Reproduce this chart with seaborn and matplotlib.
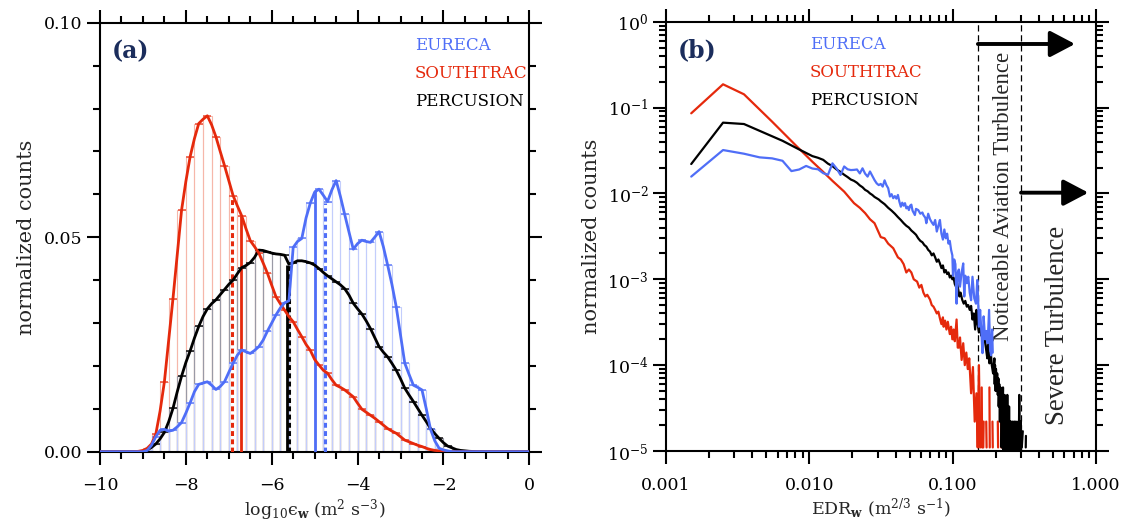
import numpy as np
import pandas as pd
import matplotlib
matplotlib.use("Agg")
import matplotlib.pyplot as plt
import seaborn as sns
from matplotlib.ticker import (MultipleLocator, LogLocator, NullFormatter,
                               FuncFormatter, FormatStrFormatter, LogFormatterSciNotation)

# ---------------- data ----------------
campaigns = ["EURECA", "SOUTHTRAC", "PERCUSION"]
line_colors = {"EURECA": "#4f6ef7", "SOUTHTRAC": "#e5290c", "PERCUSION": "#000000"}
bar_colors = {"EURECA": "#c3cdfc", "SOUTHTRAC": "#f6b7aa", "PERCUSION": "#9a9aa6"}
top_colors = {"EURECA": "#7088f8", "SOUTHTRAC": "#ec5a44", "PERCUSION": "#222222"}

# panel (a): log10 epsilon grid (0.1 steps), bars every 0.2
log_eps = np.round(np.arange(-10.0, 0.05, 0.1), 1)

eureca_a = [0.0] * 5 + [
    0, 0, 0, 0, 0, 0,
    0.0003, 0.0015, 0.0035, 0.0050, 0.0052, 0.0048, 0.0050, 0.0058, 0.0068, 0.0090,
    0.0114, 0.0140, 0.0157, 0.0160, 0.0163, 0.0155, 0.0145, 0.0152, 0.0163, 0.0185,
    0.0206, 0.0225, 0.0237, 0.0233, 0.0229, 0.0236, 0.0245, 0.0260, 0.0281, 0.0300,
    0.0319, 0.0335, 0.0347, 0.0352, 0.0476, 0.0490, 0.0497, 0.0545, 0.0580, 0.0605,
    0.0612, 0.0598, 0.0583, 0.0610, 0.0632, 0.0595, 0.0553, 0.0512, 0.0472, 0.0485,
    0.0493, 0.0490, 0.0488, 0.0500, 0.0513, 0.0478, 0.0435, 0.0390, 0.0338, 0.0272,
    0.0206, 0.0180, 0.0155, 0.0150, 0.0144, 0.0100, 0.0052, 0.0025, 0.0008, 0.0004,
    0.0002, 0, 0, 0, 0, 0, 0, 0, 0, 0] + [0.0] * 10

southtrac_a = [0.0] * 5 + [
    0, 0, 0, 0, 0.0001, 0.0003,
    0.0008, 0.0018, 0.0041, 0.0095, 0.0163, 0.0260, 0.0357, 0.0460, 0.0563, 0.0630,
    0.0688, 0.0730, 0.0765, 0.0775, 0.0783, 0.0762, 0.0734, 0.0700, 0.0667, 0.0632,
    0.0597, 0.0573, 0.0550, 0.0520, 0.0492, 0.0478, 0.0463, 0.0440, 0.0416, 0.0388,
    0.0361, 0.0345, 0.0330, 0.0315, 0.0303, 0.0285, 0.0268, 0.0250, 0.0236, 0.0215,
    0.0202, 0.0190, 0.0183, 0.0168, 0.0155, 0.0150, 0.0144, 0.0136, 0.0128, 0.0113,
    0.0099, 0.0092, 0.0085, 0.0078, 0.0070, 0.0062, 0.0054, 0.0048, 0.0043, 0.0035,
    0.0027, 0.0023, 0.0019, 0.0015, 0.0012, 0.0008, 0.0005, 0.0003, 0.0002, 0.0001,
    0, 0, 0, 0, 0, 0, 0, 0, 0, 0] + [0.0] * 10

percusion_a = [0.0] * 5 + [
    0, 0, 0, 0, 0, 0.0001,
    0.0004, 0.0010, 0.0018, 0.0030, 0.0045, 0.0070, 0.0101, 0.0140, 0.0176, 0.0208,
    0.0235, 0.0265, 0.0292, 0.0315, 0.0333, 0.0345, 0.0354, 0.0366, 0.0378, 0.0390,
    0.0400, 0.0415, 0.0429, 0.0434, 0.0441, 0.0453, 0.0470, 0.0469, 0.0466, 0.0463,
    0.0461, 0.0460, 0.0458, 0.0437, 0.0440, 0.0445, 0.0445, 0.0443, 0.0440, 0.0435,
    0.0427, 0.0418, 0.0410, 0.0403, 0.0396, 0.0389, 0.0380, 0.0365, 0.0346, 0.0333,
    0.0321, 0.0305, 0.0287, 0.0266, 0.0245, 0.0232, 0.0221, 0.0206, 0.0190, 0.0170,
    0.0148, 0.0132, 0.0117, 0.0101, 0.0085, 0.0070, 0.0054, 0.0042, 0.0031, 0.0021,
    0.0013, 0.0009, 0.0005, 0.0003, 0.0002, 0.0001, 0.00005, 0, 0, 0] + [0.0] * 10

# mean (solid) and median (dashed) markers, order = campaigns
mean_log = [-5.00, -6.72, -5.64]
mean_top = [0.0610, 0.0550, 0.0436]
median_log = [-4.77, -6.92, -5.60]
median_top = [0.0580, 0.0595, 0.0436]

# panel (b): EDR distributions
nan = np.nan
southtrac_edr = [0.0015, 0.0025, 0.0035, 0.0055, 0.0080, 0.0105, 0.0125, 0.0145, 0.0175, 0.0205,
                 0.0225, 0.0245, 0.0265, 0.0285, 0.0315, 0.0335, 0.0355, 0.0385, 0.0415, 0.0435,
                 0.0455, 0.0475, 0.0495, 0.0515, 0.0535, 0.0565, 0.0585, 0.0605, 0.0625, 0.0645,
                 0.0665, 0.0695, 0.0715, 0.0735, 0.0755, 0.0775, 0.0795, 0.0815, 0.0835, 0.0855,
                 0.0865, 0.0885, 0.0905, 0.0925, 0.0955, 0.0975, 0.0995, 0.1015, 0.1035, 0.1065,
                 0.1085, 0.1105, 0.1125, 0.1155, 0.1185, 0.1215, 0.1245, 0.1275, 0.1305, 0.1345,
                 0.1385, 0.1425, 0.1465, 0.1495, 0.1525, 0.1555, 0.1565, 0.1595, 0.1605, 0.1615,
                 0.1635, 0.1645, 0.1655, 0.1715, 0.1725, 0.1735, 0.1805, 0.1815, 0.1825, 0.1895,
                 0.1905, 0.1915, 0.2065, 0.2075, 0.2085, 0.2175, 0.2185, 0.2195, 0.2245, 0.2255]
southtrac_b = [0.0857, 0.1866, 0.1427, 0.0685, 0.0366, 0.0234, 0.0178, 0.0140, 0.0105, 0.0077,
               0.0068, 0.0059, 0.0050, 0.0045, 0.0031, 0.0030, 0.0026, 0.0023, 0.0018, 0.0017,
               0.0015, 0.0012, 0.0013, 0.0012, 0.0010, 0.00094, 0.00080, 0.00086, 0.00070, 0.00063,
               0.00066, 0.00058, 0.00050, 0.00048, 0.00044, 0.00040, 0.00042, 0.00035, 0.00030, 0.00036,
               0.00028, 0.00033, 0.00026, 0.00032, 0.00023, 0.00028, 0.00020, 0.00026, 0.00019, 0.00034,
               0.00016, 0.00016, 0.00021, 0.000115, 0.00018, 0.00010, 0.00014, 0.00009, 0.00012, 0.000047,
               0.000095, 0.000022, 0.000047, 0.000011, 0.00010, 0.000011, nan, 0.000055, 0.000011, nan,
               0.000011, 0.000022, nan, 0.000022, 0.000011, nan, 0.000055, 0.000011, nan, 0.000022,
               0.000011, nan, 0.000022, 0.000011, nan, 0.000022, 0.000011, nan, 0.000011, 0.000022]

eureca_edr = [0.0015, 0.0025, 0.0035, 0.0045, 0.0055, 0.0065, 0.0075, 0.0085, 0.0095, 0.0105,
              0.0115, 0.0125, 0.0135, 0.0145, 0.0155, 0.0165, 0.0175, 0.0185, 0.0195, 0.0205,
              0.0215, 0.0225, 0.0235, 0.0245, 0.0255, 0.0265, 0.0275, 0.0285, 0.0295, 0.0305,
              0.0315, 0.0325, 0.0335, 0.0345, 0.0355, 0.0365, 0.0375, 0.0385, 0.0395, 0.0405,
              0.0415, 0.0425, 0.0435, 0.0445, 0.0455, 0.0465, 0.0475, 0.0485, 0.0495, 0.0505,
              0.0515, 0.0525, 0.0545, 0.0555, 0.0575, 0.0595, 0.0615, 0.0625, 0.0645, 0.0655,
              0.0675, 0.0695, 0.0715, 0.0735, 0.0755, 0.0775, 0.0795, 0.0815, 0.0835, 0.0855,
              0.0875, 0.0895, 0.0915, 0.0935, 0.0955, 0.0975, 0.0995, 0.1005, 0.1025, 0.1045,
              0.1065, 0.1085, 0.1105, 0.1125, 0.1155, 0.1185, 0.1205, 0.1225, 0.1255, 0.1285,
              0.1315, 0.1345, 0.1375, 0.1415, 0.1455, 0.1485, 0.1505, 0.1525, 0.1555, 0.1585,
              0.1615, 0.1645, 0.1685, 0.1725, 0.1755, 0.1795, 0.1825, 0.1855, 0.1885, 0.1905]
eureca_b = [0.0157, 0.0320, 0.0290, 0.0263, 0.0256, 0.0240, 0.0182, 0.0190, 0.0209, 0.0195,
            0.0191, 0.0172, 0.0165, 0.0224, 0.0195, 0.0164, 0.0206, 0.0191, 0.0187, 0.0188,
            0.0190, 0.0171, 0.0196, 0.0170, 0.0157, 0.0180, 0.0160, 0.0143, 0.0131, 0.0125,
            0.0129, 0.0120, 0.0142, 0.0125, 0.0115, 0.0092, 0.0098, 0.0088, 0.0093, 0.0087,
            0.0096, 0.0080, 0.0070, 0.0078, 0.0072, 0.0077, 0.0067, 0.0070, 0.0064, 0.0072,
            0.0074, 0.0063, 0.0056, 0.0066, 0.0064, 0.0058, 0.0060, 0.0056, 0.0052, 0.0045,
            0.0058, 0.0050, 0.0046, 0.0043, 0.0049, 0.0036, 0.0042, 0.0049, 0.0034, 0.0029,
            0.0038, 0.0030, 0.0034, 0.0026, 0.0028, 0.0022, 0.0019, 0.0011, 0.0017, 0.0015,
            0.00052, 0.0012, 0.0013, 0.00082, 0.0012, 0.00153, 0.00063, 0.0011, 0.0009, 0.00107,
            0.0007, 0.00057, 0.00107, 0.0006, 0.00052, 0.00098, 0.0006, 0.00028, 0.00044, 0.00025,
            0.000138, 0.00037, 0.0002, 0.00025, 0.00018, 0.00044, 0.00015, 0.00013, 0.00026, 0.00014]

percusion_edr = [0.0015, 0.0025, 0.0035, 0.0045, 0.0055, 0.0065, 0.0075, 0.0085, 0.0095, 0.0105,
                 0.0115, 0.0125, 0.0135, 0.0145, 0.0155, 0.0165, 0.0175, 0.0185, 0.0195, 0.0205,
                 0.0215, 0.0225, 0.0235, 0.0245, 0.0255, 0.0265, 0.0275, 0.0285, 0.0295, 0.0305,
                 0.0315, 0.0335, 0.0355, 0.0375, 0.0395, 0.0415, 0.0435, 0.0455, 0.0475, 0.0495,
                 0.0515, 0.0535, 0.0555, 0.0575, 0.0595, 0.0615, 0.0635, 0.0655, 0.0675, 0.0695,
                 0.0715, 0.0735, 0.0755, 0.0775, 0.0795, 0.0815, 0.0835, 0.0855, 0.0875, 0.0895,
                 0.0915, 0.0935, 0.0955, 0.0975, 0.0995, 0.1015, 0.1035, 0.1055, 0.1075, 0.1095,
                 0.1115, 0.1135, 0.1165, 0.1195, 0.1225, 0.1255, 0.1285, 0.1315, 0.1345, 0.1375,
                 0.1405, 0.1435, 0.1465, 0.1495, 0.1525, 0.1555, 0.1585, 0.1625, 0.1665, 0.1705,
                 0.1745, 0.1765, 0.1805, 0.1845, 0.1875, 0.1915, 0.1955, 0.1965, 0.1975, 0.1985,
                 0.1995, 0.2005, 0.2025, 0.2045, 0.2065, 0.2085, 0.2095, 0.2115, 0.2135, 0.2155,
                 0.2165, 0.2185, 0.2195, 0.2215, 0.2225, 0.2245, 0.2255, 0.2275, 0.2285, 0.2305,
                 0.2315, 0.2335, 0.2345, 0.2365, 0.2375, 0.2395, 0.2405, 0.2425, 0.2445, 0.2465,
                 0.2475, 0.2495, 0.2515, 0.2535, 0.2555, 0.2575, 0.2595, 0.2625, 0.2645, 0.2665,
                 0.2695, 0.2715, 0.2735, 0.2765, 0.2785, 0.2835, 0.2865, 0.2885, 0.2915, 0.2935,
                 0.2965, 0.2985, 0.3005, 0.3020, 0.3035, 0.3085, 0.3160, 0.3235, 0.3245]
percusion_b = [0.0220, 0.0667, 0.0643, 0.0535, 0.0462, 0.0410, 0.0362, 0.0325, 0.0296, 0.0272,
               0.0260, 0.0246, 0.0222, 0.0208, 0.0190, 0.0178, 0.0165, 0.0155, 0.0145, 0.0140,
               0.0133, 0.0124, 0.0118, 0.0110, 0.0106, 0.0100, 0.0096, 0.0091, 0.0088, 0.0085,
               0.0081, 0.0075, 0.0068, 0.0063, 0.0058, 0.0053, 0.0049, 0.0045, 0.0042, 0.0040,
               0.0037, 0.0035, 0.0033, 0.0030, 0.0028, 0.0027, 0.0025, 0.0024, 0.0022, 0.0021,
               0.0019, 0.0020, 0.0018, 0.0016, 0.0017, 0.00153, 0.00135, 0.00145, 0.0012, 0.00128,
               0.00115, 0.00120, 0.00105, 0.00110, 0.00100, 0.00105, 0.00088, 0.00082, 0.0009, 0.00075,
               0.00063, 0.0007, 0.00058, 0.00052, 0.00056, 0.00048, 0.00050, 0.00044, 0.00049, 0.00034,
               0.00040, 0.00026, 0.00044, 0.00030, 0.00024, 0.00030, 0.00022, 0.00026, 0.00021, 0.00016,
               0.00012, 0.00018, 0.000105, 0.00014, 0.0001, 0.00008, 0.00012, 0.00006, 0.00010, 0.00007,
               0.00005, 0.00009, 0.00006, 0.00008, 0.000045, 0.00007, 0.000033, 0.00006, 0.000022, 0.000055,
               0.000033, 0.000045, 0.000011, 0.000045, 0.000022, 0.000055, 0.000006, 0.000033, 0.000011, 0.000045,
               0.000006, 0.000033, 0.000022, 0.000006, 0.000033, 0.000011, 0.000045, 0.000006, 0.000022, 0.000011,
               0.000033, 0.000006, 0.000022, 0.000006, 0.000022, 0.000011, 0.000006, 0.000022, 0.000006, 0.000011,
               0.000022, 0.000006, 0.000011, 0.000022, 0.000006, 0.000011, 0.000022, 0.000006, 0.000045, 0.000006,
               0.000011, 0.000022, 0.000006, nan, 0.000011, 0.000017, nan, 0.000011, 0.000015]

edr_thresholds = [0.15, 0.3]
threshold_labels = ["Noticeable Aviation Turbulence", "Severe Turbulence"]

# ---------------- style ----------------
sns.set_theme(style="ticks")
plt.rcParams["font.family"] = ["DejaVu Serif"]
plt.rcParams["mathtext.fontset"] = "dejavuserif"
plt.rcParams["axes.linewidth"] = 1.5
plt.rcParams["axes.unicode_minus"] = True

fig = plt.figure(figsize=(11.26, 5.21), dpi=100)
ax1 = fig.add_axes([0.08881, 0.13301, 0.38126, 0.82342])
ax2 = fig.add_axes([0.59147, 0.13436, 0.38188, 0.82400])

series_a = {"EURECA": np.array(eureca_a), "SOUTHTRAC": np.array(southtrac_a),
            "PERCUSION": np.array(percusion_a)}

# hollow bars every 0.2 (centres on odd tenths)
odd = (np.round(log_eps * 10).astype(int) % 2) == 1
for c in ["SOUTHTRAC", "PERCUSION", "EURECA"]:
    v = series_a[c]
    m = odd & (v > 0)
    ax1.bar(log_eps[m], v[m], width=0.2, facecolor="none", fill=False,
            edgecolor=bar_colors[c], linewidth=0.8, zorder=1)
    m2 = odd & (v > 0.0008)
    ax1.plot(log_eps[m2], v[m2], ls="none", marker="_", ms=6.3, mew=1.2,
             color=top_colors[c], zorder=2)

# mean / median lines
for i, c in enumerate(campaigns):
    ax1.vlines(mean_log[i], 0, mean_top[i], colors=line_colors[c], lw=2.0, zorder=3)
    ax1.vlines(median_log[i], 0, median_top[i], colors=line_colors[c], lw=2.2,
               linestyles=(0, (1.6, 1.1)), zorder=3)

df_a = pd.DataFrame({
    "log_eps": np.tile(log_eps, 3),
    "counts": np.concatenate([series_a[c] for c in campaigns]),
    "campaign": np.repeat(campaigns, len(log_eps)),
})
sns.lineplot(data=df_a, x="log_eps", y="counts", hue="campaign",
             hue_order=["PERCUSION", "SOUTHTRAC", "EURECA"], palette=line_colors,
             estimator=None, sort=False, linewidth=2.0, legend=False, ax=ax1, zorder=4)

ax1.set_xlim(-10, 0)
ax1.set_ylim(0, 0.10)
ax1.xaxis.set_major_locator(MultipleLocator(2))
ax1.xaxis.set_minor_locator(MultipleLocator(0.5))
ax1.yaxis.set_major_locator(MultipleLocator(0.05))
ax1.yaxis.set_minor_locator(MultipleLocator(0.01))
ax1.yaxis.set_major_formatter(FormatStrFormatter("%.2f"))

# panel (b)
ax2.plot(southtrac_edr, southtrac_b, color=line_colors["SOUTHTRAC"], lw=1.6, zorder=3)
ax2.plot(percusion_edr, percusion_b, color=line_colors["PERCUSION"], lw=1.6, zorder=4)
ax2.plot(eureca_edr, eureca_b, color=line_colors["EURECA"], lw=1.6, zorder=5)
ax2.set_xscale("log")
ax2.set_yscale("log")
ax2.set_xlim(1e-3, 1.0)
ax2.set_ylim(1e-5, 1.0)
ax2.xaxis.set_major_locator(LogLocator(base=10, numticks=10))
ax2.xaxis.set_minor_locator(LogLocator(base=10, subs=np.arange(2, 10), numticks=30))
ax2.xaxis.set_major_formatter(FuncFormatter(lambda v, p: f"{v:.3f}"))
ax2.xaxis.set_minor_formatter(NullFormatter())
ax2.yaxis.set_major_locator(LogLocator(base=10, numticks=10))
ax2.yaxis.set_minor_locator(LogLocator(base=10, subs=np.arange(2, 10), numticks=30))
ax2.yaxis.set_major_formatter(LogFormatterSciNotation())
ax2.yaxis.set_minor_formatter(NullFormatter())

for t in edr_thresholds:
    ax2.axvline(t, color="black", lw=0.9, ls=(0, (5, 3)), zorder=2)

arrow_kw = dict(arrowstyle="-|>,head_length=0.38,head_width=0.2", lw=2.8,
                color="black", mutation_scale=40, shrinkA=0, shrinkB=0)
ax2.annotate("", xy=(0.714, 0.55), xytext=(edr_thresholds[0], 0.55), arrowprops=arrow_kw)
ax2.annotate("", xy=(0.885, 0.0102), xytext=(edr_thresholds[1], 0.0102), arrowprops=arrow_kw)
ax2.text(0.225, 0.0092, threshold_labels[0], rotation=90, ha="center", va="center",
         fontsize=16.4, family="Liberation Serif")
ax2.text(0.536, 0.00029, threshold_labels[1], rotation=90, ha="center", va="center",
         fontsize=19.3, family="Liberation Serif")

# common axis styling
for ax, lab in [(ax1, "(a)"), (ax2, "(b)")]:
    ax.tick_params(which="both", direction="out", top=True, right=True,
                   labeltop=False, labelright=False, width=1.5, color="black",
                   labelsize=12.5, labelcolor="black")
    ax.tick_params(which="major", length=9.5, pad=9)
    ax.tick_params(which="minor", length=4.7)
    ax.tick_params(axis="y", which="major", pad=3)
    for s in ax.spines.values():
        s.set_color("black")
        s.set_linewidth(1.5)
    ax.set_ylabel("normalized counts", fontsize=15)
    ax.yaxis.set_label_coords(-0.15, 0.5)
    ax.text(0.027, 0.934, lab, transform=ax.transAxes, ha="left", va="center",
            fontsize=17, fontweight="bold", color="#1b2d5c")
    ax.set_facecolor("white")

ax1.set_xlabel("log$_{10}$\u03f5$_{\\mathbf{w}}$ (m$^{2}$ s$^{-3}$)", fontsize=12.5)
ax2.set_xlabel(r"EDR$_{\mathbf{w}}$ (m$^{2/3}$ s$^{-1}$)", fontsize=12.5)
ax1.xaxis.set_label_coords(0.5, -0.105)
ax2.xaxis.set_label_coords(0.5, -0.105)

legend_x = {ax1: 0.734, ax2: 0.335}
for ax in (ax1, ax2):
    for c, yy in zip(campaigns, [0.948, 0.882, 0.816]):
        ax.text(legend_x[ax], yy, c, transform=ax.transAxes, ha="left", va="center",
                fontsize=12, color=line_colors[c])

fig.savefig("out.png", dpi=100, facecolor="white")
